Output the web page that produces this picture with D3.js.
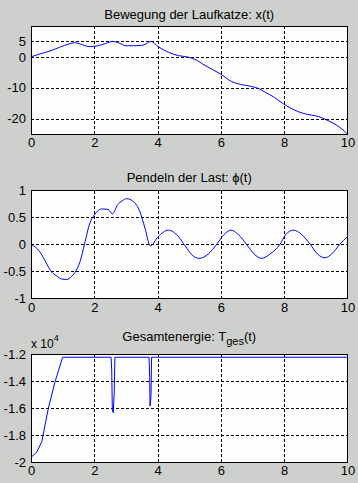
<!DOCTYPE html>
<html><head><meta charset="utf-8">
<script src="https://cdn.jsdelivr.net/npm/d3@7"></script>
<style>
html,body{margin:0;padding:0;background:#ced0cd;}
svg{display:block;font-family:"Liberation Sans",Arial,sans-serif;}
</style></head>
<body><svg id="c" width="358" height="483"></svg>
<script>
// ---- data ----
const tX = [0,0.3,0.6,0.9,1.2,1.37,1.6,1.86,2.1,2.35,2.58,2.8,3.0,3.25,3.5,3.65,3.79,4.02,4.34,4.66,4.97,5.18,5.5,5.98,6.34,6.65,6.97,7.2,7.39,7.7,7.97,8.34,8.6,8.87,9.1,9.29,9.6,9.8,10];
const xVals = [0,1.0,1.9,3.1,4.2,4.6,4.0,3.3,3.6,4.3,5.0,4.4,3.6,3.6,3.7,4.3,5.0,3.3,1.5,0.4,-0.1,-0.8,-2.8,-5.5,-8.0,-9.0,-9.6,-10.3,-11.4,-13.2,-15.2,-17.3,-18.3,-18.9,-19.4,-20.2,-21.8,-23.2,-25];

const tPhi = [0,0.28,0.45,0.65,0.8,0.97,1.13,1.27,1.39,1.55,1.69,1.86,2.0,2.12,2.23,2.44,2.57,2.74,2.88,3.02,3.23,3.44,3.6,3.77,4.02,4.34,4.66,4.87,5.13,5.32,5.6,5.87,6.1,6.32,6.55,6.81,7.05,7.29,7.55,7.87,8.05,8.29,8.55,8.82,9.05,9.29,9.5,9.76,10];
const phiVals = [0,-0.14,-0.31,-0.51,-0.58,-0.64,-0.65,-0.6,-0.52,-0.32,0,0.39,0.54,0.62,0.65,0.64,0.56,0.73,0.80,0.84,0.79,0.60,0.30,-0.03,0.14,0.26,0.14,-0.03,-0.22,-0.26,-0.18,0,0.18,0.26,0.18,0,-0.18,-0.26,-0.18,0,0.18,0.26,0.18,0,-0.18,-0.25,-0.18,0,0.14];

const tE = [0,0.18,0.34,0.55,0.76,1.0,2.53,2.55,2.57,2.6,2.63,2.65,3.73,3.75,3.76,3.79,3.81,10];
const eVals = [-1.965,-1.928,-1.85,-1.60,-1.405,-1.224,-1.224,-1.318,-1.615,-1.635,-1.479,-1.224,-1.224,-1.373,-1.585,-1.52,-1.224,-1.224];

const xTicks = [0,2,4,6,8,10];
const yTicks1 = [-20,-10,0,5];
const yTicks2 = [-1,-0.5,0,0.5,1];
const yTicks3 = [-2,-1.8,-1.6,-1.4,-1.2];

// ---- drawing ----
const svg = d3.select("#c");
const L = 31, R = 347.5;
const tf = "'Liberation Sans',Arial,sans-serif";

function panel(top, bottom, yDomain, yTicks, ts, vs, curve) {
  const x = d3.scaleLinear().domain([0,10]).range([L,R]);
  const y = d3.scaleLinear().domain(yDomain).range([bottom, top]);
  const g = svg.append("g");
  g.append("rect").attr("x",L).attr("y",top).attr("width",R-L).attr("height",bottom-top)
    .attr("fill","#fdfefb");
  const gx = g.append("g").attr("transform",`translate(0,${bottom})`)
    .call(d3.axisBottom(x).tickValues(xTicks).tickSize(-(bottom-top)).tickPadding(4)
      .tickFormat(d3.format("d")));
  const gy = g.append("g").attr("transform",`translate(${L},0)`)
    .call(d3.axisLeft(y).tickValues(yTicks).tickSize(-(R-L)).tickPadding(5)
      .tickFormat(d => String(d)));
  [gx,gy].forEach(a => {
    a.select(".domain").remove();
    a.selectAll(".tick line").attr("stroke","#000").attr("stroke-dasharray","3,2")
      .attr("shape-rendering","crispEdges");
    a.selectAll(".tick text").attr("fill","#000").style("font-size","13px")
      .style("font-family",tf);
  });
  gx.selectAll(".tick text").attr("dy","0.71em");
  gx.selectAll(".tick line").filter(d => d===0||d===10).remove();
  gy.selectAll(".tick line").filter(d => d===yDomain[0]||d===yDomain[1]).remove();
  const line = d3.line().x((d,i)=>x(ts[i])).y((d,i)=>y(vs[i])).curve(curve);
  g.append("path").datum(vs).attr("d",line).attr("fill","none")
    .attr("stroke","#0000ff").attr("stroke-width",1);
  g.append("rect").attr("x",L).attr("y",top).attr("width",R-L).attr("height",bottom-top)
    .attr("fill","none").attr("stroke","#000").attr("stroke-width",1).attr("shape-rendering","crispEdges");
}

panel(26, 134, [-25,10], yTicks1, tX, xVals, d3.curveMonotoneX);
panel(190, 298.5, [-1,1], yTicks2, tPhi, phiVals, d3.curveMonotoneX);
panel(354, 462, [-2,-1.2], yTicks3, tE, eVals, d3.curveLinear);

const cx = (L+R)/2;
svg.append("text").attr("x",cx).attr("y",19).attr("text-anchor","middle")
  .style("font-size","13px").style("font-family",tf).text("Bewegung der Laufkatze: x(t)");
svg.append("text").attr("x",cx).attr("y",182).attr("text-anchor","middle")
  .style("font-size","13px").style("font-family",tf).text("Pendeln der Last: ϕ(t)");
const t3 = svg.append("text").attr("x",cx).attr("y",341).attr("text-anchor","middle")
  .style("font-size","13px").style("font-family",tf);
t3.append("tspan").text("Gesamtenergie: T");
t3.append("tspan").attr("dy",4).style("font-size","11px").text("ges");
t3.append("tspan").attr("dy",-4).text("(t)");
const ex = svg.append("text").attr("x",31).attr("y",348).style("font-size","12px").style("font-family",tf);
ex.append("tspan").text("x 10");
ex.append("tspan").attr("dy",-7).style("font-size","9px").text("4");
</script></body></html>
